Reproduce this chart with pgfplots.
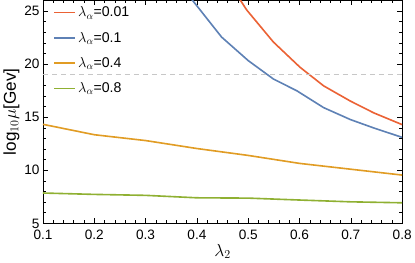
\documentclass[border=0pt]{standalone}
\usepackage{fontspec}
\setmainfont{Liberation Sans}
\usepackage{pgfplots}
\pgfplotsset{compat=1.18}
\definecolor{mred}{HTML}{EB6235}
\definecolor{mblue}{HTML}{5E81B5}
\definecolor{morange}{HTML}{E19C24}
\definecolor{mgreen}{HTML}{8FB032}
\begin{document}
\begin{tikzpicture}
\begin{axis}[
  scale only axis,
  width=356pt, height=221pt,
  xmin=0.1, xmax=0.8, ymin=5, ymax=26,
  xtick={0.1,0.2,...,0.8},
  ytick={5,10,15,20,25},
  minor x tick num=4, minor y tick num=4,
  tick align=inside,
  major tick length=5pt, minor tick length=3pt,
  tick style={black, line width=0.6pt},
  axis line style={line width=0.8pt},
  xticklabel style={/pgf/number format/fixed, /pgf/number format/precision=1, /pgf/number format/fixed zerofill, yshift=-3.5pt},
  yticklabel style={xshift=0pt},
  /pgf/number format/assume math mode=true,
  tick label style={font=\fontsize{13.5}{16}\selectfont},
  xlabel={$\lambda_2$},
  ylabel={log$_{10}\mu$[Gev]},
  xlabel style={font=\fontsize{17}{19}\selectfont, yshift=3pt},
  ylabel style={font=\fontsize{17}{19}\selectfont, yshift=-2pt},
  legend style={draw=none, fill=none, at={(0.02,0.99)}, anchor=north west, font=\fontsize{14}{16}\selectfont, row sep=9.5pt},
  legend cell align=left,
  legend image code/.code={\draw[#1, line width=1.6pt] (0pt,0pt) -- (21pt,0pt);},
  every axis plot/.append style={line width=1.6pt},
  clip=true,
]
\addplot[mred] coordinates {(0.45,28.6)(0.497,25.1)(0.549,22.08)(0.601,19.7)(0.647,17.95)(0.699,16.52)(0.745,15.4)(0.8,14.3)};
\addlegendentry{$\lambda_\alpha$=0.01}
\addplot[mblue] coordinates {(0.35,28.5)(0.3986,25.57)(0.448,22.55)(0.5,20.33)(0.549,18.6)(0.595,17.48)(0.647,15.9)(0.699,14.78)(0.745,13.98)(0.8,13.1)};
\addlegendentry{$\lambda_\alpha$=0.1}
\addplot[morange] coordinates {(0.1,14.33)(0.2,13.35)(0.3,12.8)(0.4,12.05)(0.5,11.4)(0.6,10.65)(0.7,10.1)(0.8,9.55)};
\addlegendentry{$\lambda_\alpha$=0.4}
\addplot[mgreen] coordinates {(0.1,7.86)(0.2,7.73)(0.3,7.64)(0.4,7.41)(0.5,7.38)(0.6,7.2)(0.7,7.03)(0.8,6.94)};
\addlegendentry{$\lambda_\alpha$=0.8}
\addplot[black!22, dash pattern=on 5pt off 4pt, line width=1.2pt, forget plot] coordinates {(0.1,19)(0.8,19)};
\end{axis}
\end{tikzpicture}
\end{document}
